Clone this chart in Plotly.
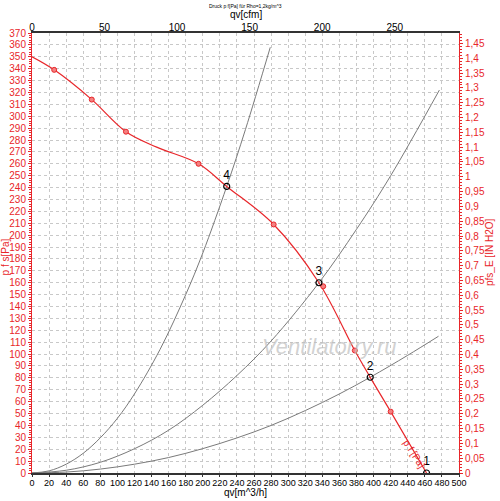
import plotly.graph_objects as go

# fan curve p f [Pa] vs qv [m^3/h]
qv_fan = [0, 26, 70, 110, 146, 195, 228, 283, 336, 378, 396, 420, 462]
pf_fan = [350, 339, 314, 287, 274, 260, 241, 209, 160, 103, 80.5, 51.6, 0]

# measured points on the fan curve
qv_meas = [26, 70, 110, 195, 283, 341, 378, 420]
pf_meas = [339, 314, 287, 260, 209, 157, 103, 51.6]

# system curves
qv_sys4 = [0, 20, 40, 60, 80, 100, 120, 150, 180, 200, 228, 250, 279]
pf_sys4 = [0, 1.8, 7.4, 16.6, 29.6, 46, 66.5, 104, 150, 185, 241, 289, 358]
qv_sys3 = [0, 40, 80, 120, 160, 200, 240, 280, 336, 380, 420, 477]
pf_sys3 = [0, 2.3, 9, 20.4, 36, 57, 82, 111, 160, 205, 250, 322]
qv_sys2 = [0, 40, 80, 120, 160, 200, 240, 280, 320, 360, 396, 440, 476]
pf_sys2 = [0, 0.8, 3.3, 7.4, 13, 20.5, 29.5, 40, 52.5, 66.5, 80.5, 99, 115]

# operating points
qv_op = [462, 396, 336, 228]
pf_op = [0, 80.5, 160, 241]
op_labels = ['1', '2', '3', '4']

RED = '#e8262a'
GREY = '#7a7a7a'
FONT = 'Liberation Sans, Arial, sans-serif'

fig = go.Figure()

for xs, ys in [(qv_sys4, pf_sys4), (qv_sys3, pf_sys3), (qv_sys2, pf_sys2)]:
    fig.add_trace(go.Scatter(x=xs, y=ys, mode='lines', line_shape='spline',
                             line=dict(color=GREY, width=1), hoverinfo='skip'))

fig.add_trace(go.Scatter(x=qv_fan, y=pf_fan, mode='lines', line_shape='spline',
                         line=dict(color=RED, width=1.2)))
fig.add_trace(go.Scatter(x=qv_meas, y=pf_meas, mode='markers',
                         marker=dict(color='#f48080', size=5,
                                     line=dict(color=RED, width=1))))
fig.add_trace(go.Scatter(x=qv_op, y=pf_op, mode='markers+text', text=op_labels,
                         textposition='top center',
                         textfont=dict(color='black', size=12, family=FONT),
                         marker=dict(symbol='circle-open', color='black', size=6,
                                     line=dict(width=1.2))))

# dummy traces for the secondary axes
fig.add_trace(go.Scatter(x=[0], y=[0], xaxis='x2', yaxis='y', mode='markers',
                         marker=dict(opacity=0), hoverinfo='skip'))
fig.add_trace(go.Scatter(x=[0], y=[0], xaxis='x', yaxis='y2', mode='markers',
                         marker=dict(opacity=0), hoverinfo='skip'))

fig.add_annotation(x=447, y=16, text='p f [Pa]', showarrow=False, textangle=57,
                   font=dict(color=RED, size=10, family=FONT))
fig.add_annotation(x=348, y=106, text='Ventilatorry.ru', showarrow=False,
                   font=dict(color='rgba(190,190,190,0.7)', size=22, family=FONT,
                             style='italic'))

# titles placed by hand
fig.add_annotation(x=0.5, y=1, xref='paper', yref='paper', yanchor='middle', yshift=27,
                   text='Druck p f[Pa] für Rho=1,2kg/m^3', showarrow=False,
                   font=dict(color='black', size=5, family=FONT))
fig.add_annotation(x=0.5, y=1, xref='paper', yref='paper', yanchor='middle', yshift=19,
                   text='qv[cfm]', showarrow=False,
                   font=dict(color='black', size=10, family=FONT))
fig.add_annotation(x=0.5, y=0, xref='paper', yref='paper', yanchor='middle', yshift=-19,
                   text='qv[m^3/h]', showarrow=False,
                   font=dict(color='black', size=10, family=FONT))
fig.add_annotation(x=0, y=0.49, xref='paper', yref='paper', xanchor='center', xshift=-27,
                   text='p f s[Pa]', showarrow=False, textangle=-90,
                   font=dict(color=RED, size=10, family=FONT))
fig.add_annotation(x=1, y=0.5, xref='paper', yref='paper', xanchor='center', xshift=30,
                   text='pfs_E [IN H2O]', showarrow=False, textangle=-90,
                   font=dict(color=RED, size=10, family=FONT))

fig.update_layout(
    width=500, height=501,
    margin=dict(l=32, r=41, t=33, b=28),
    plot_bgcolor='white', paper_bgcolor='white',
    showlegend=False,
    separators=',.',
    font=dict(family=FONT, size=10, color='black'),
    xaxis=dict(range=[0, 500], dtick=20, showgrid=True, gridcolor='#c8c8c8',
               griddash='dot', zeroline=False, showline=True, linecolor='#333333',
               linewidth=2, mirror=True, ticks='outside', ticklen=2, tickcolor='#333333',
               automargin=False, tickfont=dict(size=9, color='black'),
               ticklabelstandoff=-2),
    # top cfm axis: line comes from the mirrored bottom axis
    xaxis2=dict(range=[0, 500 / 1.699], dtick=50, overlaying='x', side='top',
                anchor='free', position=1,
                showgrid=False, zeroline=False, showline=False, ticks='',
                automargin=False, tickfont=dict(size=10, color='black')),
    yaxis=dict(range=[0, 370], dtick=10, showgrid=True, gridcolor='#c8c8c8',
               griddash='dot', zeroline=False, showline=True, linecolor=RED,
               linewidth=1, ticks='outside', ticklen=3, tickcolor=RED,
               minor=dict(dtick=2, ticklen=2, ticks='outside', tickcolor=RED),
               automargin=False, tickfont=dict(size=10, color=RED)),
    yaxis2=dict(range=[0, 370 / 249.09], dtick=0.05, overlaying='y', side='right',
                showgrid=False, zeroline=False, showline=True, linecolor=RED,
                linewidth=1, ticks='outside', ticklen=3, tickcolor=RED,
                minor=dict(dtick=0.01, ticklen=2, ticks='outside', tickcolor=RED),
                automargin=False, tickfont=dict(size=10, color=RED)),
)

# page body has a default 8px margin; drop it so the figure sits at the corner
fig.write_html("out.html", config={'displayModeBar': False},
               post_script="document.body.style.margin='0px';")
